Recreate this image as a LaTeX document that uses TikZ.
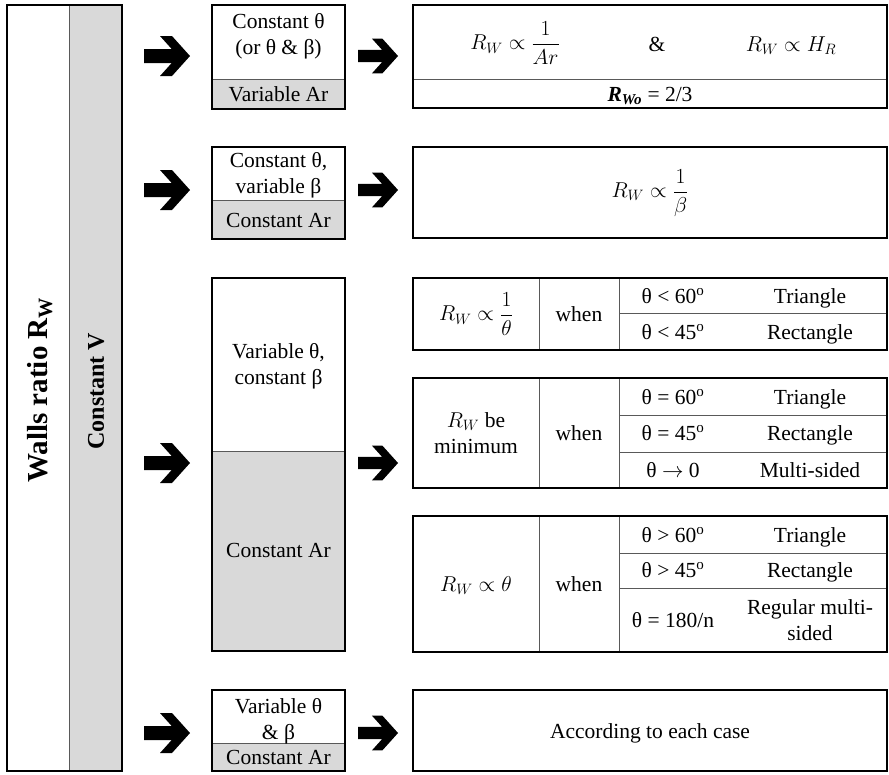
\documentclass[tikz,border=0pt]{standalone}
\usepackage{fix-cm}
\usepackage{amsmath}
\usepackage{fontspec}
\setmainfont{Liberation Serif}
\usepackage{tikz}

\newcommand{\fatarrow}[3]{%
  \fill[shift={(#1,#2)},scale=#3] (0,7) -- (27.7,7) -- (16,20) -- (28,20) -- (46,0)
    -- (28,-20) -- (16,-20) -- (27.7,-7) -- (0,-7) -- cycle;}

\begin{document}
\begin{tikzpicture}[x=1pt,y=-1pt,
  frame/.style={line width=2.4pt},
  sep/.style={line width=0.9pt,black!65},
  txt/.style={font=\fontsize{21.5}{26}\selectfont,align=center,inner sep=0pt},
  cell/.style={txt,text height=17pt,text depth=3pt},
  shade/.style={fill=black!15}]
  \useasboundingbox (0,0) rectangle (889,774);

  % left column
  \fill[shade] (69,5) rectangle (122,771);
  \draw[sep] (69,5) -- (69,771);
  \draw[frame] (7,5) rectangle (122,771);
  \node[rotate=90,font=\fontsize{29}{32}\selectfont\bfseries] (walls) at (40,390) {Walls ratio R\textsubscript{W}};
  \node[rotate=90,font=\fontsize{24}{28}\selectfont\bfseries] (constv) at (96,391) {Constant V};

  % middle boxes
  \foreach \t/\d/\b in {5/79/109, 147/200/239, 278/451/651, 690/743/771} {
    \fill[shade] (212,\d) rectangle (345,\b);
    \draw[sep] (212,\d) -- (345,\d);
    \draw[frame] (212,\t) rectangle (345,\b);
  }
  \node[txt] (m1a) at (278.5,36) {Constant θ\\(or θ \& β)};
  \node[cell] (m1b) at (278.5,94) {Variable Ar};
  \node[txt] (m2a) at (278.5,175) {Constant θ,\\variable β};
  \node[cell] (m2b) at (278.5,220) {Constant Ar};
  \node[txt] (m3a) at (278.5,366) {Variable θ,\\constant β};
  \node[cell] (m3b) at (278.5,550) {Constant Ar};
  \node[txt] (m4a) at (278.5,721) {Variable θ\\\& β};
  \node[cell] (m4b) at (278.5,757) {Constant Ar};

  % arrows
  \foreach \y in {56,190,463,733} {
    \fatarrow{144}{\y}{1}
    \fatarrow{358}{\y}{0.87}
  }

  % right boxes: inner lines first
  \draw[sep] (413,79) -- (887,79);
  \foreach \t/\b in {278/350, 378/488, 516/652}
    \draw[sep] (539,\t) -- (539,\b) (619,\t) -- (619,\b);
  \foreach \y in {313, 415, 452, 553, 588}
    \draw[sep] (619,\y) -- (887,\y);
  \foreach \t/\b in {5/108, 147/238, 278/350, 378/488, 516/652, 690/771}
    \draw[frame] (413,\t) rectangle (887,\b);

  \node[txt] (r1a) at (515,43) {$R_W \propto \dfrac{1}{Ar}$};
  \node[cell] (r1b) at (657,44) {\&};
  \node[cell] (r1c) at (791,44) {$R_W \propto H_R$};
  \node[cell] (r1d) at (650,94) {\textbf{\textit{R\textsubscript{Wo}}} = 2/3};
  \node[txt] (r2) at (650,193) {$R_W \propto \dfrac{1}{\beta}$};

  \node[txt] (r3a) at (476,314) {$R_W \propto \dfrac{1}{\theta}$};
  \node[cell] (r3w) at (579,314) {when};
  \node[cell] (r3b) at (673,296) {θ < 60\textsuperscript{o}};
  \node[cell] (r3c) at (810,296) {Triangle};
  \node[cell] (r3d) at (673,332) {θ < 45\textsuperscript{o}};
  \node[cell] (r3e) at (810,332) {Rectangle};

  \node[txt] (r4a) at (476,433) {$R_W$ be\\minimum};
  \node[cell] (r4w) at (579,433) {when};
  \node[cell] (r4b) at (673,397) {θ = 60\textsuperscript{o}};
  \node[cell] (r4c) at (810,397) {Triangle};
  \node[cell] (r4d) at (673,433) {θ = 45\textsuperscript{o}};
  \node[cell] (r4e) at (810,433) {Rectangle};
  \node[cell] (r4f) at (673,470) {θ $\rightarrow$ 0};
  \node[cell] (r4g) at (810,470) {Multi-sided};

  \node[cell] (r5a) at (476,584) {$R_W \propto \theta$};
  \node[cell] (r5w) at (579,584) {when};
  \node[cell] (r5b) at (673,535) {θ > 60\textsuperscript{o}};
  \node[cell] (r5c) at (810,535) {Triangle};
  \node[cell] (r5d) at (673,570) {θ > 45\textsuperscript{o}};
  \node[cell] (r5e) at (810,570) {Rectangle};
  \node[cell] (r5f) at (673,620) {θ = 180/n};
  \node[txt] (r5g) at (810,620) {Regular multi-\\sided};

  \node[cell] (r6) at (650,731) {According to each case};
\end{tikzpicture}
\end{document}
